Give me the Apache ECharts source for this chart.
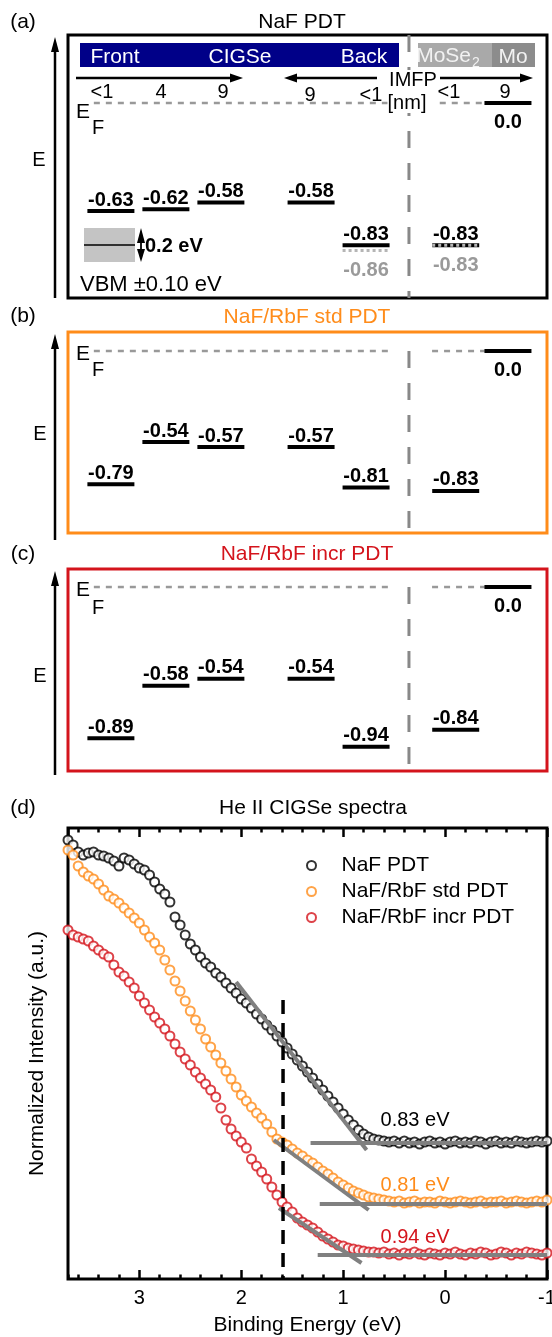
<!DOCTYPE html>
<html>
<head>
<meta charset="utf-8">
<script src="https://cdn.jsdelivr.net/npm/echarts@6/dist/echarts.min.js"></script>
<style>
html, body { margin: 0; padding: 0; background: #fff; }
#main { width: 552px; height: 1337px; }
</style>
</head>
<body>
<div id="main"></div>
<script>
var FONT = '"Liberation Sans", Arial, Helvetica, sans-serif';
var ORANGE = '#ff8c1a', RED = '#d4141c';

// ---- (a)-(c): VBM relative to E_F (eV), one value per probed slot
var imfpLabels = ['<1', '4', '9', '9', '<1', '<1', '9'];
var vbmNaF = [-0.63, -0.62, -0.58, -0.58, -0.83, -0.83];
var vbmNaFgray = [null, null, null, null, -0.86, -0.83];
var vbmStd = [-0.79, -0.54, -0.57, -0.57, -0.81, -0.83];
var vbmIncr = [-0.89, -0.58, -0.54, -0.54, -0.94, -0.84];
var fermiMo = 0.0;

// ---- (d): He II spectra
var bindingEnergy = [
  3.70, 3.65, 3.60, 3.55, 3.50, 3.45, 3.40, 3.35, 3.30, 3.25,
  3.20, 3.15, 3.10, 3.05, 3.00, 2.95, 2.90, 2.85, 2.80, 2.75,
  2.70, 2.65, 2.60, 2.55, 2.50, 2.45, 2.40, 2.35, 2.30, 2.25,
  2.20, 2.15, 2.10, 2.05, 2.00, 1.95, 1.90, 1.85, 1.80, 1.75,
  1.70, 1.65, 1.60, 1.55, 1.50, 1.45, 1.40, 1.35, 1.30, 1.25,
  1.20, 1.15, 1.10, 1.05, 1.00, 0.95, 0.90, 0.85, 0.80, 0.75,
  0.70, 0.65, 0.60, 0.55, 0.50, 0.45, 0.40, 0.35, 0.30, 0.25,
  0.20, 0.15, 0.10, 0.05, 0.00, -0.05, -0.10, -0.15, -0.20, -0.25,
  -0.30, -0.35, -0.40, -0.45, -0.50, -0.55, -0.60, -0.65, -0.70, -0.75,
  -0.80, -0.85, -0.90, -0.95, -1.00
];
var intNaF = [
  4.39, 4.34, 4.27, 4.24, 4.26, 4.27, 4.24, 4.23, 4.21, 4.18,
  4.13, 4.21, 4.19, 4.15, 4.11, 4.09, 4.04, 3.97, 3.90, 3.85,
  3.77, 3.62, 3.54, 3.44, 3.35, 3.29, 3.22, 3.16, 3.12, 3.06,
  3.02, 2.96, 2.91, 2.86, 2.80, 2.76, 2.71, 2.65, 2.60, 2.54,
  2.49, 2.43, 2.37, 2.31, 2.25, 2.19, 2.13, 2.07, 2.01, 1.95,
  1.89, 1.83, 1.77, 1.71, 1.65, 1.59, 1.54, 1.49, 1.45, 1.42,
  1.40, 1.39, 1.38, 1.37, 1.38, 1.36, 1.38, 1.36, 1.37, 1.35,
  1.37, 1.38, 1.36, 1.37, 1.35, 1.37, 1.38, 1.36, 1.37, 1.36,
  1.38, 1.37, 1.35, 1.37, 1.38, 1.36, 1.37, 1.36, 1.38, 1.37,
  1.36, 1.37, 1.38, 1.37, 1.38
];
var intStd = [
  4.29, 4.24, 4.13, 4.07, 4.03, 4.00, 3.95, 3.89, 3.83, 3.80,
  3.76, 3.71, 3.66, 3.61, 3.56, 3.49, 3.42, 3.36, 3.29, 3.19,
  3.09, 2.98, 2.88, 2.78, 2.68, 2.59, 2.50, 2.40, 2.32, 2.24,
  2.16, 2.08, 2.00, 1.92, 1.84, 1.78, 1.72, 1.66, 1.61, 1.55,
  1.47, 1.40, 1.37, 1.34, 1.30, 1.26, 1.23, 1.19, 1.16, 1.12,
  1.08, 1.05, 1.01, 0.97, 0.94, 0.91, 0.88, 0.86, 0.84, 0.82,
  0.81, 0.80, 0.79, 0.78, 0.77, 0.78, 0.76, 0.77, 0.78, 0.76,
  0.77, 0.77, 0.76, 0.78, 0.77, 0.76, 0.77, 0.78, 0.77, 0.76,
  0.77, 0.78, 0.76, 0.77, 0.77, 0.78, 0.76, 0.77, 0.78, 0.77,
  0.76, 0.77, 0.78, 0.77, 0.79
];
var intIncr = [
  3.49, 3.44, 3.42, 3.40, 3.38, 3.33, 3.29, 3.25, 3.22, 3.14,
  3.07, 3.03, 2.97, 2.91, 2.83, 2.76, 2.69, 2.62, 2.56, 2.50,
  2.43, 2.35, 2.27, 2.20, 2.14, 2.07, 2.01, 1.95, 1.89, 1.82,
  1.71, 1.59, 1.50, 1.43, 1.37, 1.31, 1.20, 1.13, 1.07, 1.00,
  0.92, 0.84, 0.77, 0.72, 0.67, 0.61, 0.57, 0.54, 0.51, 0.47,
  0.43, 0.40, 0.37, 0.34, 0.33, 0.31, 0.30, 0.29, 0.28, 0.27,
  0.27, 0.26, 0.27, 0.25, 0.26, 0.24, 0.26, 0.25, 0.27, 0.25,
  0.24, 0.26, 0.25, 0.24, 0.26, 0.25, 0.27, 0.25, 0.24, 0.26,
  0.25, 0.27, 0.26, 0.24, 0.25, 0.27, 0.26, 0.24, 0.26, 0.25,
  0.27, 0.26, 0.25, 0.24, 0.26
];
// linear extrapolation of the leading edge and the background
var fitNaF = [[2.05, 2.97], [0.77, 1.29]], baseNaF = [[1.32, 1.36], [-1.0, 1.36]];
var fitStd = [[1.68, 1.39], [0.75, 0.69]], baseStd = [[1.23, 0.75], [-1.0, 0.75]];
var fitIncr = [[1.63, 0.71], [0.82, 0.16]], baseIncr = [[1.25, 0.24], [-1.0, 0.24]];
var onsets = [0.83, 0.81, 0.94];
var refEnergy = 1.59;
var seriesNames = ['NaF PDT', 'NaF/RbF std PDT', 'NaF/RbF incr PDT'];

// layout of the level slots along the x axis of (a)-(c)
var slotX = [0, 1, 2, 3.64, 4.64, 6.27];
var moX = 7.22, sepX = 5.42;
var panelY = [[-1.137, 0.397], [-1.080, 0.113], [-1.082, 0.106]];

function zip(xs, ys) { return xs.map(function (x, i) { return [x, ys[i]]; }); }

function levelSeries(gi, xs, vals, o) {
  var data = [];
  vals.forEach(function (v, i) { if (v !== null) data.push([xs[i], v]); });
  return {
    type: 'custom', xAxisIndex: gi, yAxisIndex: gi, data: data, z: o.z || 3, silent: true,
    renderItem: function (params, api) {
      var p = api.coord([api.value(0), api.value(1)]);
      var t = api.value(1).toFixed(o.digits);
      return { type: 'group', children: [
        { type: 'line', shape: { x1: p[0] - 23.5, y1: p[1], x2: p[0] + 23.5, y2: p[1] },
          style: { stroke: o.color, lineWidth: o.width || 4, lineDash: o.dash || null } },
        { type: 'text', x: p[0], y: o.below ? p[1] + o.off : p[1] - o.off,
          style: { text: t, fill: o.textColor || '#000', font: 'bold 20px ' + FONT,
            align: 'center', textAlign: 'center',
            verticalAlign: o.below ? 'top' : 'bottom', textVerticalAlign: o.below ? 'top' : 'bottom' } }
      ] };
    }
  };
}

function dashSeries(gi, pts, color, width, dash) {
  return { type: 'line', xAxisIndex: gi, yAxisIndex: gi, data: pts, symbol: 'none', silent: true,
    lineStyle: { color: color, width: width, type: dash }, z: 1 };
}

function txt(s, x, y, o) {
  o = o || {};
  return { type: 'text', x: x, y: y, z: 100, style: {
    text: s, fill: o.color || '#000', font: (o.bold ? 'bold ' : '') + (o.size || 20) + 'px ' + FONT,
    align: o.align || 'center', textAlign: o.align || 'center',
    verticalAlign: 'middle', textVerticalAlign: 'middle',
    backgroundColor: o.bg || null } };
}
function arrowH(x1, x2, y) {
  var d = x2 > x1 ? 1 : -1;
  return [
    { type: 'line', z: 100, shape: { x1: x1, y1: y, x2: x2 - d * 10, y2: y }, style: { stroke: '#000', lineWidth: 2.5 } },
    { type: 'polygon', z: 100, shape: { points: [[x2, y], [x2 - d * 13, y - 4.5], [x2 - d * 13, y + 4.5]] }, style: { fill: '#000' } }
  ];
}
function arrowV(x, y1, y2, both) {
  var els = [
    { type: 'line', z: 100, shape: { x1: x, y1: y1 - (both ? 8 : 0), x2: x, y2: y2 + 12 }, style: { stroke: '#000', lineWidth: both ? 1.8 : 2.5 } },
    { type: 'polygon', z: 100, shape: { points: [[x, y2], [x - 4, y2 + 15], [x + 4, y2 + 15]] }, style: { fill: '#000' } }
  ];
  if (both) els.push({ type: 'polygon', z: 100, shape: { points: [[x, y1], [x - 4, y1 - 13], [x + 4, y1 - 13]] }, style: { fill: '#000' } });
  return els;
}

var graphics = [
  txt('(a)', 23, 22, { size: 21 }), txt('NaF PDT', 302, 22, { size: 21 }),
  txt('(b)', 23, 316, { size: 21 }), txt('NaF/RbF std PDT', 307, 317, { color: ORANGE, size: 21 }),
  txt('(c)', 23, 554, { size: 21 }), txt('NaF/RbF incr PDT', 307, 554, { color: RED, size: 21 }),
  txt('(d)', 23, 808, { size: 21 }), txt('He II CIGSe spectra', 313, 808, { size: 21 }),
  txt('E', 39, 160), txt('E', 40, 434), txt('E', 40, 676),
  txt('E', 83, 112, { size: 21 }), txt('F', 98, 128),
  txt('E', 83, 354, { size: 21 }), txt('F', 98, 370),
  txt('E', 83, 590, { size: 21 }), txt('F', 98, 608),
  // layer bands
  { type: 'rect', z: 90, shape: { x: 80, y: 43, width: 319, height: 24 }, style: { fill: '#000088' } },
  { type: 'rect', z: 90, shape: { x: 418, y: 43, width: 74, height: 24 }, style: { fill: '#a9a9a9' } },
  { type: 'rect', z: 90, shape: { x: 492, y: 43, width: 43, height: 24 }, style: { fill: '#8c8c8c' } },
  txt('Front', 115, 57, { color: '#fff', size: 21 }), txt('CIGSe', 240, 57, { color: '#fff', size: 21 }),
  txt('Back', 364, 57, { color: '#fff', size: 21 }),
  txt('MoSe', 471, 56, { color: '#f2f2f2', size: 21, align: 'right' }), txt('2', 472, 63, { color: '#f2f2f2', size: 14, align: 'left' }),
  txt('Mo', 513, 57, { color: '#f2f2f2', size: 21 }),
  txt('IMFP', 413, 80, { bg: '#fff' }), txt('[nm]', 407, 103, { bg: '#fff' }),
  // VBM uncertainty key
  { type: 'rect', z: 90, shape: { x: 84, y: 228, width: 51, height: 34 }, style: { fill: '#c4c4c4' } },
  { type: 'line', z: 91, shape: { x1: 84, y1: 245, x2: 135, y2: 245 }, style: { stroke: '#000', lineWidth: 1.5 } },
  txt('0.2 eV', 145, 246, { bold: true, align: 'left' }),
  txt('VBM \u00b10.10 eV', 80, 285, { size: 22, align: 'left' }),
  // onset values in (d)
  txt(onsets[0].toFixed(2) + ' eV', 415, 1120),
  txt(onsets[1].toFixed(2) + ' eV', 415, 1185, { color: ORANGE }),
  txt(onsets[2].toFixed(2) + ' eV', 415, 1237, { color: RED })
];
var imfpX = [102, 161, 223, 310, 371, 449, 505], imfpY = [92, 92, 92, 95, 95, 92, 92];
imfpLabels.forEach(function (s, i) { graphics.push(txt(s, imfpX[i], imfpY[i])); });
graphics = graphics.concat(
  arrowH(76, 243, 78), arrowH(377, 284, 78), arrowH(440, 533, 78),
  arrowV(55, 298, 37), arrowV(55, 540, 334), arrowV(55, 775, 571),
  arrowV(141, 262, 228, true)
);

var grids = [], xAxes = [], yAxes = [], series = [];
var borders = ['#000', ORANGE, RED];
var boxes = [[35, 263], [332, 201], [569, 202]];
[vbmNaF, vbmStd, vbmIncr].forEach(function (vals, gi) {
  grids.push({ left: 68, top: boxes[gi][0], width: 479, height: boxes[gi][1], show: true,
    borderColor: borders[gi], borderWidth: 3, outerBoundsMode: 'none' });
  xAxes.push({ gridIndex: gi, type: 'value', min: -0.78, max: 7.93, show: false });
  yAxes.push({ gridIndex: gi, type: 'value', min: panelY[gi][0], max: panelY[gi][1], show: false });
  var efRight = gi === 0 ? 5.98 : 5.84;
  series.push(dashSeries(gi, [[-0.31, 0], [5.07, 0]], '#999', 2.5, [6, 6]));
  series.push(dashSeries(gi, [[efRight, 0], [6.8, 0]], '#999', 2.5, [6, 6]));
  series.push(dashSeries(gi, [[sepX, gi === 0 ? panelY[0][1] : 0], [sepX, panelY[gi][0]]], '#888', 3, [17, 15]));
  series.push(levelSeries(gi, slotX, vals, { color: '#000', digits: 2, off: 1 }));
  series.push(levelSeries(gi, [moX], [fermiMo], { color: '#000', digits: 1, below: true, off: 9 }));
});
series.push(levelSeries(0, slotX, vbmNaFgray, { color: '#b5b5b5', width: 3, dash: [3, 3], digits: 2,
  below: true, off: 10, textColor: '#9a9a9a', z: 4 }));

// (d)
grids.push({ left: 68, top: 828, width: 479, height: 451, show: true, borderColor: '#000', borderWidth: 3, outerBoundsMode: 'none' });
var tickStyle = { color: '#000', width: 2.5 };
xAxes.push({ gridIndex: 3, type: 'value', min: -1, max: 3.7, interval: 1, inverse: true, position: 'bottom',
  axisLine: { show: false }, splitLine: { show: false },
  axisTick: { inside: true, length: 9, lineStyle: tickStyle },
  axisLabel: { color: '#000', fontSize: 20, fontFamily: FONT, margin: 9, showMaxLabel: false },
  name: 'Binding Energy (eV)', nameLocation: 'middle', nameGap: 36,
  nameTextStyle: { color: '#000', fontSize: 21, fontFamily: FONT } });
xAxes.push({ gridIndex: 3, type: 'value', min: -1, max: 3.7, interval: 1, inverse: true, position: 'top',
  axisLine: { show: false }, splitLine: { show: false }, axisLabel: { show: false },
  axisTick: { inside: true, length: 9, lineStyle: tickStyle } });
['bottom', 'top'].forEach(function (pos) {
  xAxes.push({ gridIndex: 3, type: 'value', min: -1, max: 3.7, interval: 0.2, inverse: true, position: pos,
    axisLine: { show: false }, splitLine: { show: false }, axisLabel: { show: false },
    axisTick: { inside: true, length: 4.5, lineStyle: tickStyle } });
});
yAxes.push({ gridIndex: 3, type: 'value', min: 0, max: 4.51,
  axisLine: { show: false }, axisTick: { show: false }, axisLabel: { show: false }, splitLine: { show: false },
  name: 'Normalized Intensity (a.u.)', nameLocation: 'middle', nameGap: 20,
  nameTextStyle: { color: '#000', fontSize: 21, fontFamily: FONT } });

var colors = ['#000', ORANGE, RED];
[intNaF, intStd, intIncr].forEach(function (vals, i) {
  series.push({ name: seriesNames[i], type: 'scatter', xAxisIndex: 3, yAxisIndex: 3,
    data: zip(bindingEnergy, vals), symbol: 'emptyCircle', symbolSize: 9,
    itemStyle: { color: colors[i], borderWidth: 1.4 }, z: 2 });
});
[fitNaF, baseNaF, fitStd, baseStd, fitIncr, baseIncr].forEach(function (pts) {
  series.push({ type: 'line', xAxisIndex: 3, yAxisIndex: 3, data: pts, symbol: 'none', silent: true,
    lineStyle: { color: '#808080', width: 4 }, z: 5 });
});
series.push({ type: 'line', xAxisIndex: 3, yAxisIndex: 3, data: [[refEnergy, 2.79], [refEnergy, 0]], symbol: 'none',
  silent: true, lineStyle: { color: '#000', width: 3.5, type: [14, 9] }, z: 6 });

var chart = echarts.init(document.getElementById('main'), null, { renderer: 'canvas' });
chart.setOption({
  animation: false,
  backgroundColor: '#fff',
  textStyle: { fontFamily: FONT },
  grid: grids, xAxis: xAxes, yAxis: yAxes, series: series,
  legend: { data: seriesNames, orient: 'vertical', left: 301, top: 850, itemWidth: 50, itemHeight: 9,
    itemGap: 5, icon: 'emptyCircle', selectedMode: false,
    textStyle: { color: '#000', fontSize: 21, fontFamily: FONT } },
  graphic: graphics
});
</script>
</body>
</html>
